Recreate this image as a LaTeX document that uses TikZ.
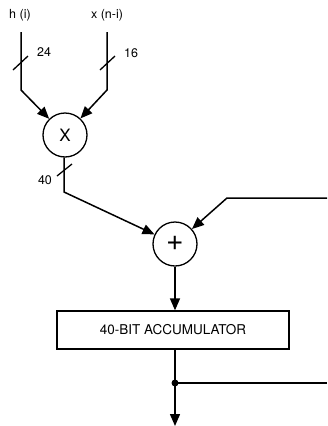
\documentclass[tikz,border=0pt]{standalone}
\usepackage{fontspec}
\setmainfont{TeX Gyre Heros}
\usetikzlibrary{arrows.meta,calc}
\begin{document}
\begin{tikzpicture}[x=1pt,y=-1pt,
  wire/.style={line width=1.5pt},
  arr/.style={wire,-{Triangle[length=12pt,width=10pt]}},
  op/.style={circle,draw,line width=1.3pt,minimum size=44pt,inner sep=0pt,font=\fontsize{17}{17}\selectfont},
  lbl/.style={font=\fontsize{12.5}{13}\selectfont,inner sep=0pt},
  slash/.style={line width=1.3pt},
  box/.style={draw,line width=1.3pt,minimum width=232pt,minimum height=38pt,inner sep=0pt,font=\fontsize{13.5}{14}\selectfont}]
\useasboundingbox (0,0) rectangle (327,426);
% labels
\node[lbl] (hl) at (20,15) {h (i)};
\node[lbl] (xl) at (107,15) {x (n-i)};
% operators
\node[op] (mult) at (65,135) {X};
\node[op,font=\fontsize{30}{30}\selectfont] (add) at (175,244) {\raisebox{1.5pt}{+}};
\node[box] (acc) at (173,330) {40-BIT ACCUMULATOR};
% coordinates
\coordinate (h0) at (21,32);
\coordinate (h1) at (21,90);
\coordinate (x0) at (107,32);
\coordinate (x1) at (107,90);
\coordinate (m1) at (64,192);
\coordinate (fbR) at (327,198);
\coordinate (fbC) at (227,198);
\coordinate (dot) at (175,383);
\coordinate (outR) at (327,383);
\coordinate (out) at (175,426);
% wires
\draw[arr] (h0) -- (h1) -- (mult);
\draw[arr] (x0) -- (x1) -- (mult);
\draw[arr] (mult.south -| m1) -- (m1) -- (add);
\draw[arr] (fbR) -- (fbC) -- (add);
\draw[arr] (add.south) -- (add.south |- acc.north);
\draw[arr] (acc.south -| add.south) -- (out);
\draw[wire] (dot) -- (outR);
\fill (dot) circle (3.5pt);
% bus slashes
\draw[slash] (13,70) -- (28,56);
\draw[slash] (100,70) -- (115,56);
\draw[slash] (57,176) -- (72,164);
\node[lbl] (n24) at (44,52) {24};
\node[lbl] (n16) at (131,53) {16};
\node[lbl] (n40) at (45,180) {40};
\end{tikzpicture}
\end{document}
